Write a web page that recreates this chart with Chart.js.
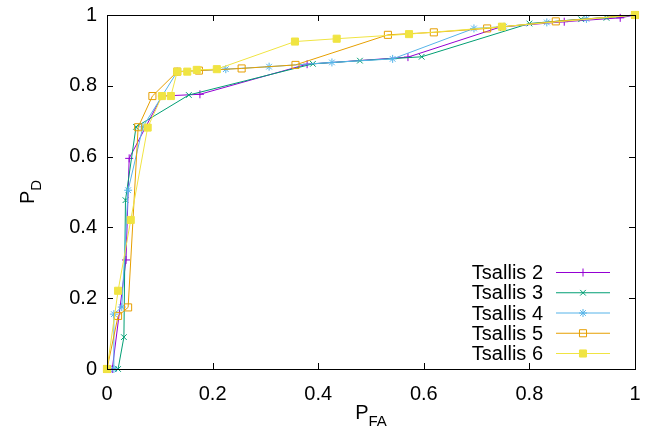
<!DOCTYPE html>
<html>
<head>
<meta charset="utf-8">
<script src="https://cdn.jsdelivr.net/npm/chart.js@4.4.0/dist/chart.umd.min.js"></script>
<style>
  body { margin: 0; background: #fff; }
  #wrap { width: 645px; height: 433px; }
</style>
</head>
<body>
<div id="wrap"><canvas id="roc" width="645" height="433"></canvas></div>
<script>
// series names
const seriesNames = ['Tsallis 2', 'Tsallis 3', 'Tsallis 4', 'Tsallis 5', 'Tsallis 6'];

// P_FA / P_D values
const t2x = [0.01, 0.036, 0.042, 0.104, 0.176, 0.379, 0.57, 0.745, 0.866, 0.972, 1];
const t2y = [0, 0.308, 0.595, 0.771, 0.776, 0.861, 0.881, 0.966, 0.981, 0.992, 1];

const t3x = [0.021, 0.032, 0.035, 0.055, 0.155, 0.39, 0.479, 0.596, 0.8, 0.898, 0.946, 1];
const t3y = [0, 0.09, 0.477, 0.684, 0.774, 0.862, 0.871, 0.882, 0.976, 0.988, 0.992, 1];

const t4x = [0.013, 0.013, 0.028, 0.04, 0.068, 0.133, 0.225, 0.307, 0.426, 0.541, 0.695, 0.752, 0.833, 0.908, 1];
const t4y = [0, 0.155, 0.175, 0.505, 0.684, 0.84, 0.847, 0.854, 0.866, 0.876, 0.962, 0.967, 0.979, 0.989, 1];

const t5x = [0, 0.021, 0.04, 0.059, 0.086, 0.133, 0.174, 0.255, 0.357, 0.532, 0.619, 0.72, 0.85, 1];
const t5y = [0, 0.15, 0.174, 0.683, 0.771, 0.84, 0.843, 0.849, 0.859, 0.944, 0.951, 0.962, 0.982, 1];

const t6x = [0, 0.021, 0.045, 0.077, 0.104, 0.121, 0.133, 0.152, 0.17, 0.208, 0.356, 0.435, 0.572, 0.748, 1];
const t6y = [0, 0.221, 0.421, 0.682, 0.771, 0.771, 0.84, 0.84, 0.845, 0.847, 0.925, 0.933, 0.946, 0.967, 1];

// tick labels
const xTickLabels = ['0', '0.2', '0.4', '0.6', '0.8', '1'];
const yTickLabels = ['0', '0.2', '0.4', '0.6', '0.8', '1'];

const allX = [t2x, t3x, t4x, t5x, t6x];
const allY = [t2y, t3y, t4y, t5y, t6y];

// gnuplot default line colours / point types
const colors = ['#9400d3', '#009e73', '#56b4e9', '#e69f00', '#f0e442'];
const styles = ['cross', 'crossRot', 'star', 'rect', 'rect'];
const radii = [4, 4, 4, 5, 5];
const fills = ['#9400d3', '#009e73', '#56b4e9', 'rgba(0,0,0,0)', '#f0e442'];

const FONT = '"Liberation Sans", Arial, sans-serif';

const datasets = seriesNames.map((name, i) => ({
  label: name,
  data: allX[i].map((x, j) => ({ x: x, y: allY[i][j] })),
  borderColor: colors[i],
  backgroundColor: fills[i],
  borderWidth: 1,
  pointStyle: styles[i],
  pointRadius: radii[i],
  pointBorderWidth: 1,
  pointBorderColor: colors[i],
  pointBackgroundColor: fills[i],
  showLine: true,
  tension: 0,
  clip: false,
  order: 4 - i   // later series drawn on top, like gnuplot
}));

// frame with inward ticks on all four sides
const framePlugin = {
  id: 'frame',
  afterDatasetsDraw(chart) {
    const { ctx, chartArea: a, scales } = chart;
    ctx.save();
    ctx.strokeStyle = '#000';
    ctx.lineWidth = 1;
    const len = 6;
    ctx.beginPath();
    scales.x.ticks.forEach(t => {
      const px = Math.round(scales.x.getPixelForValue(t.value)) + 0.5;
      ctx.moveTo(px, a.bottom); ctx.lineTo(px, a.bottom - len);
      ctx.moveTo(px, a.top); ctx.lineTo(px, a.top + len);
    });
    scales.y.ticks.forEach(t => {
      const py = Math.round(scales.y.getPixelForValue(t.value)) + 0.5;
      ctx.moveTo(a.left, py); ctx.lineTo(a.left + len, py);
      ctx.moveTo(a.right, py); ctx.lineTo(a.right - len, py);
    });
    ctx.stroke();
    ctx.strokeRect(Math.round(a.left) + 0.5, Math.round(a.top) + 0.5,
                   Math.round(a.right - a.left), Math.round(a.bottom - a.top));
    ctx.restore();
  }
};

// axis titles with subscripts
const titlePlugin = {
  id: 'titles',
  afterDraw(chart) {
    const { ctx, chartArea: a } = chart;
    ctx.save();
    ctx.fillStyle = '#000';
    ctx.textBaseline = 'alphabetic';
    // x title: P_FA
    ctx.font = '20px ' + FONT;
    const pW = ctx.measureText('P').width;
    ctx.font = '15px ' + FONT;
    const subW = ctx.measureText('FA').width;
    const x0 = (a.left + a.right) / 2 - (pW + subW) / 2;
    ctx.font = '20px ' + FONT;
    ctx.fillText('P', x0, 419);
    ctx.font = '15px ' + FONT;
    ctx.fillText('FA', x0 + pW, 426);
    // y title: P_D (rotated)
    const dW = ctx.measureText('D').width;
    ctx.translate(34, (a.top + a.bottom) / 2);
    ctx.rotate(-Math.PI / 2);
    const y0 = -(pW + dW) / 2;
    ctx.font = '20px ' + FONT;
    ctx.fillText('P', y0, 0);
    ctx.font = '15px ' + FONT;
    ctx.fillText('D', y0 + pW, 7);
    ctx.restore();
  }
};

// gnuplot-style key at lower right
const keyPlugin = {
  id: 'key',
  afterDraw(chart) {
    const { ctx } = chart;
    ctx.save();
    ctx.font = '20px ' + FONT;
    ctx.textAlign = 'right';
    ctx.textBaseline = 'middle';
    seriesNames.forEach((name, i) => {
      const y = 272.5 + i * 20.25;
      ctx.fillStyle = '#000';
      ctx.fillText(name, 543, y + 1);
      ctx.strokeStyle = colors[i];
      ctx.lineWidth = 1.2;
      ctx.beginPath();
      ctx.moveTo(556, y); ctx.lineTo(610, y);
      ctx.stroke();
      ctx.fillStyle = fills[i];
      ctx.lineWidth = 1;
      Chart.helpers.drawPoint(ctx, {
        pointStyle: styles[i], radius: radii[i], rotation: 0, borderWidth: 1
      }, 583, y);
    });
    ctx.restore();
  }
};

new Chart(document.getElementById('roc'), {
  type: 'scatter',
  data: { datasets: datasets },
  options: {
    responsive: false,
    animation: false,
    events: [],
    layout: { padding: { left: 0, right: 10, top: 15, bottom: 0 } },
    plugins: { legend: { display: false }, tooltip: { enabled: false } },
    scales: {
      x: {
        type: 'linear', min: 0, max: 1,
        grid: { display: false, drawTicks: false },
        border: { display: false },
        ticks: {
          stepSize: 0.2, padding: 13, color: '#000',
          font: { family: FONT, size: 20 },
          callback: (v, idx) => xTickLabels[idx]
        },
        afterFit: s => { s.height = 64; s.paddingLeft = 0; s.paddingRight = 0; }
      },
      y: {
        type: 'linear', min: 0, max: 1,
        grid: { display: false, drawTicks: false },
        border: { display: false },
        ticks: {
          stepSize: 0.2, padding: 10, color: '#000',
          font: { family: FONT, size: 20 },
          callback: (v, idx) => yTickLabels[idx]
        },
        afterFit: s => { s.width = 107; s.paddingTop = 0; s.paddingBottom = 0; }
      }
    }
  },
  plugins: [framePlugin, titlePlugin, keyPlugin]
});
</script>
</body>
</html>
